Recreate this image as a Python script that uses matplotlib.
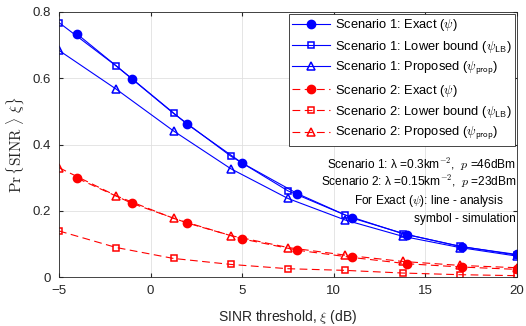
import matplotlib
matplotlib.use("Agg")
import matplotlib.pyplot as plt

plt.rcParams["font.family"] = ["Liberation Sans", "DejaVu Sans"]
plt.rcParams["mathtext.fontset"] = "cm"

# x positions (dB)
x_exact = [-4, -1, 2, 5, 8, 11, 14, 17, 20]
x_bound = [-5, -1.875, 1.25, 4.375, 7.5, 10.625, 13.75, 16.875, 20]

# Scenario 1
s1_exact = [0.733, 0.598, 0.461, 0.344, 0.252, 0.178, 0.128, 0.091, 0.068]
s1_lb = [0.768, 0.637, 0.494, 0.365, 0.260, 0.187, 0.131, 0.093, 0.066]
s1_prop = [0.684, 0.567, 0.441, 0.327, 0.237, 0.172, 0.123, 0.089, 0.063]

# Scenario 2
s2_exact = [0.298, 0.222, 0.163, 0.115, 0.081, 0.059, 0.040, 0.030, 0.023]
s2_lb = [0.139, 0.089, 0.056, 0.038, 0.025, 0.020, 0.012, 0.007, 0.004]
s2_prop = [0.330, 0.245, 0.177, 0.125, 0.089, 0.066, 0.047, 0.035, 0.028]

fig = plt.figure(figsize=(5.26, 3.26), dpi=100)
ax = fig.add_axes([59 / 526, 1 - 277 / 326, 458 / 526, 265 / 326])

blue = "#0000ff"
red = "#ff0000"
lw = 0.8
dash = (7, 4)

ax.plot(x_exact, s1_exact, "-", color=blue, lw=lw, marker="o", ms=6,
        mfc=blue, mec=blue, label=r"Scenario 1: Exact ($\psi$)")
ax.plot(x_bound, s1_lb, "-", color=blue, lw=lw, marker="s", ms=4.5,
        mfc="none", mec=blue, mew=1.1, label=r"Scenario 1: Lower bound ($\psi_{\mathsf{LB}}$)")
ax.plot(x_bound, s1_prop, "-", color=blue, lw=lw, marker="^", ms=6,
        mfc="none", mec=blue, mew=1.1, label=r"Scenario 1: Proposed ($\psi_{\mathsf{prop}}$)")
ax.plot(x_exact, s2_exact, "--", color=red, lw=lw, dashes=dash, marker="o", ms=6,
        mfc=red, mec=red, label=r"Scenario 2: Exact ($\psi$)")
ax.plot(x_bound, s2_lb, "--", color=red, lw=lw, dashes=dash, marker="s", ms=4.5,
        mfc="none", mec=red, mew=1.1, label=r"Scenario 2: Lower bound ($\psi_{\mathsf{LB}}$)")
ax.plot(x_bound, s2_prop, "--", color=red, lw=lw, dashes=dash, marker="^", ms=6,
        mfc="none", mec=red, mew=1.1, label=r"Scenario 2: Proposed ($\psi_{\mathsf{prop}}$)")

ax.set_xlim(-5, 20)
ax.set_ylim(0, 0.8)
ax.set_xticks([-5, 0, 5, 10, 15, 20])
ax.set_yticks([0, 0.2, 0.4, 0.6, 0.8])
ax.set_yticklabels(["0", "0.2", "0.4", "0.6", "0.8"])
ax.tick_params(direction="in", labelsize=9.5, top=True, right=True,
               length=3, colors="#262626", pad=6)
ax.grid(True, color="#e0e0e0", lw=0.6)
for sp in ax.spines.values():
    sp.set_color("#262626")
    sp.set_linewidth(0.6)

ax.set_xlabel(r"SINR threshold, $\xi$ (dB)", fontsize=10, color="#262626", labelpad=8)
ax.set_ylabel(r"$\Pr\{\mathrm{SINR}\ \rangle\ \xi\}$", fontsize=11, color="#262626", labelpad=4)

leg = ax.legend(loc="upper right", fontsize=9.3, handlelength=2.9,
                borderpad=0.25, labelspacing=0.42, handletextpad=0.4,
                fancybox=False, framealpha=1, edgecolor="#262626",
                borderaxespad=0.15)
leg.get_frame().set_linewidth(0.6)

txt = dict(fontsize=8.6, ha="right", va="center", color="black")
ax.text(19.95, 0.341, "Scenario 1: λ =0.3km$^{-2}$,  $p$ =46dBm", **txt)
ax.text(19.95, 0.287, "Scenario 2: λ =0.15km$^{-2}$,  $p$ =23dBm", **txt)
ax.text(19.3, 0.229, r"For Exact ($\psi$): line - analysis", **txt)
ax.text(19.95, 0.174, "symbol - simulation", **txt)

fig.savefig("out.png", dpi=100)
